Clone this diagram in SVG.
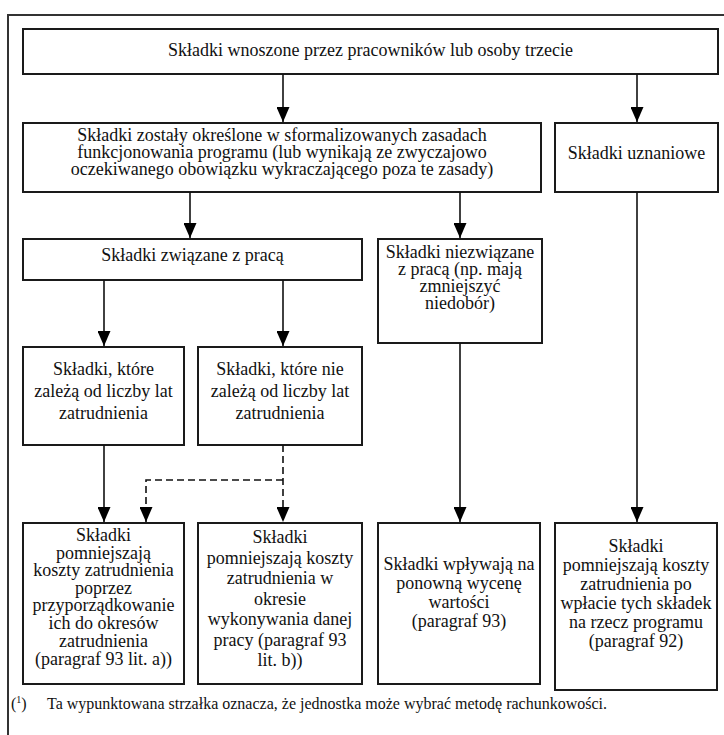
<svg xmlns="http://www.w3.org/2000/svg" width="724" height="735" viewBox="0 0 724 735">
<style>
.box{fill:#fff;stroke:#1a1a1a;stroke-width:2}
.t{font-family:"Liberation Serif","Times New Roman",serif;font-size:18px;fill:#111;text-anchor:middle}
.fn{font-family:"Liberation Serif","Times New Roman",serif;font-size:16px;fill:#111}
.ln{stroke:#111;stroke-width:1.6;fill:none}
.dash{stroke-dasharray:7,4}
</style>
<defs>
<marker id="ah" markerUnits="userSpaceOnUse" markerWidth="15" markerHeight="13" refX="15" refY="6.5" orient="auto">
<path d="M0,0 L15,6.5 L0,13 z" fill="#000"/>
</marker>
</defs>
<rect width="724" height="735" fill="#fff"/>
<path d="M8,735 V15 H724" fill="none" stroke="#333" stroke-width="2"/>

<g id="n1"><rect class="box" x="23" y="29" width="695" height="45"/>
<text class="t" x="370.5" y="56">Składki wnoszone przez pracowników lub osoby trzecie</text></g>

<g id="n2"><rect class="box" x="23" y="123" width="518" height="69"/>
<text class="t" x="282" y="141">Składki zostały określone w sformalizowanych zasadach</text>
<text class="t" x="282" y="158">funkcjonowania programu (lub wynikają ze zwyczajowo</text>
<text class="t" x="282" y="175">oczekiwanego obowiązku wykraczającego poza te zasady)</text></g>

<g id="n3"><rect class="box" x="555" y="123" width="163" height="69"/>
<text class="t" x="636.5" y="159">Składki uznaniowe</text></g>

<g id="n4"><rect class="box" x="23" y="239" width="339" height="41"/>
<text class="t" x="192.5" y="261">Składki związane z pracą</text></g>

<g id="n5"><rect class="box" x="378" y="239" width="164" height="104"/>
<text class="t" x="460" y="258">Składki niezwiązane</text>
<text class="t" x="460" y="275">z pracą (np. mają</text>
<text class="t" x="460" y="292">zmniejszyć</text>
<text class="t" x="460" y="309">niedobór)</text></g>

<g id="n6"><rect class="box" x="23" y="347" width="161" height="98"/>
<text class="t" x="103.5" y="375">Składki, które</text>
<text class="t" x="103.5" y="397">zależą od liczby lat</text>
<text class="t" x="103.5" y="419">zatrudnienia</text></g>

<g id="n7"><rect class="box" x="198" y="347" width="164" height="98"/>
<text class="t" x="280" y="375">Składki, które nie</text>
<text class="t" x="280" y="397">zależą od liczby lat</text>
<text class="t" x="280" y="419">zatrudnienia</text></g>

<g id="n8"><rect class="box" x="23" y="523" width="161" height="161"/>
<text class="t" x="103.5" y="541">Składki</text>
<text class="t" x="103.5" y="559">pomniejszają</text>
<text class="t" x="103.5" y="576">koszty zatrudnienia</text>
<text class="t" x="103.5" y="594">poprzez</text>
<text class="t" x="103.5" y="611">przyporządkowanie</text>
<text class="t" x="103.5" y="629">ich do okresów</text>
<text class="t" x="103.5" y="647">zatrudnienia</text>
<text class="t" x="103.5" y="665">(paragraf 93 lit. a))</text></g>

<g id="n9"><rect class="box" x="198" y="523" width="164" height="161"/>
<text class="t" x="280" y="543">Składki</text>
<text class="t" x="280" y="564">pomniejszają koszty</text>
<text class="t" x="280" y="584">zatrudnienia w</text>
<text class="t" x="280" y="605">okresie</text>
<text class="t" x="280" y="625">wykonywania danej</text>
<text class="t" x="280" y="646">pracy (paragraf 93</text>
<text class="t" x="280" y="666">lit. b))</text></g>

<g id="n10"><rect class="box" x="378" y="523" width="162" height="161"/>
<text class="t" x="459" y="570">Składki wpływają na</text>
<text class="t" x="459" y="589">ponowną wycenę</text>
<text class="t" x="459" y="608">wartości</text>
<text class="t" x="459" y="627">(paragraf 93)</text></g>

<g id="n11"><rect class="box" x="555" y="523" width="162" height="167"/>
<text class="t" x="636" y="552">Składki</text>
<text class="t" x="636" y="571">pomniejszają koszty</text>
<text class="t" x="636" y="590">zatrudnienia po</text>
<text class="t" x="636" y="609">wpłacie tych składek</text>
<text class="t" x="636" y="628">na rzecz programu</text>
<text class="t" x="636" y="647">(paragraf 92)</text></g>

<g id="connectors">
<line class="ln" x1="283" y1="74" x2="283" y2="122" marker-end="url(#ah)"/>
<line class="ln" x1="637" y1="74" x2="637" y2="122" marker-end="url(#ah)"/>
<line class="ln" x1="190" y1="192" x2="190" y2="238" marker-end="url(#ah)"/>
<line class="ln" x1="460" y1="192" x2="460" y2="238" marker-end="url(#ah)"/>
<line class="ln" x1="104" y1="280" x2="104" y2="346" marker-end="url(#ah)"/>
<line class="ln" x1="283" y1="280" x2="283" y2="346" marker-end="url(#ah)"/>
<line class="ln" x1="104" y1="445" x2="104" y2="522" marker-end="url(#ah)"/>
<line class="ln dash" x1="283" y1="445" x2="283" y2="522" marker-end="url(#ah)"/>
<polyline class="ln dash" points="283,480 146,480 146,522" marker-end="url(#ah)"/>
<line class="ln" x1="460" y1="343" x2="460" y2="522" marker-end="url(#ah)"/>
<line class="ln" x1="637" y1="192" x2="637" y2="522" marker-end="url(#ah)"/>
</g>

<g id="footnote">
<text class="fn" x="11" y="709">(<tspan font-size="10" dy="-6">1</tspan><tspan dy="6">)</tspan></text>
<text class="fn" x="47" y="709">Ta wypunktowana strzałka oznacza, że jednostka może wybrać metodę rachunkowości.</text>
</g>
</svg>
